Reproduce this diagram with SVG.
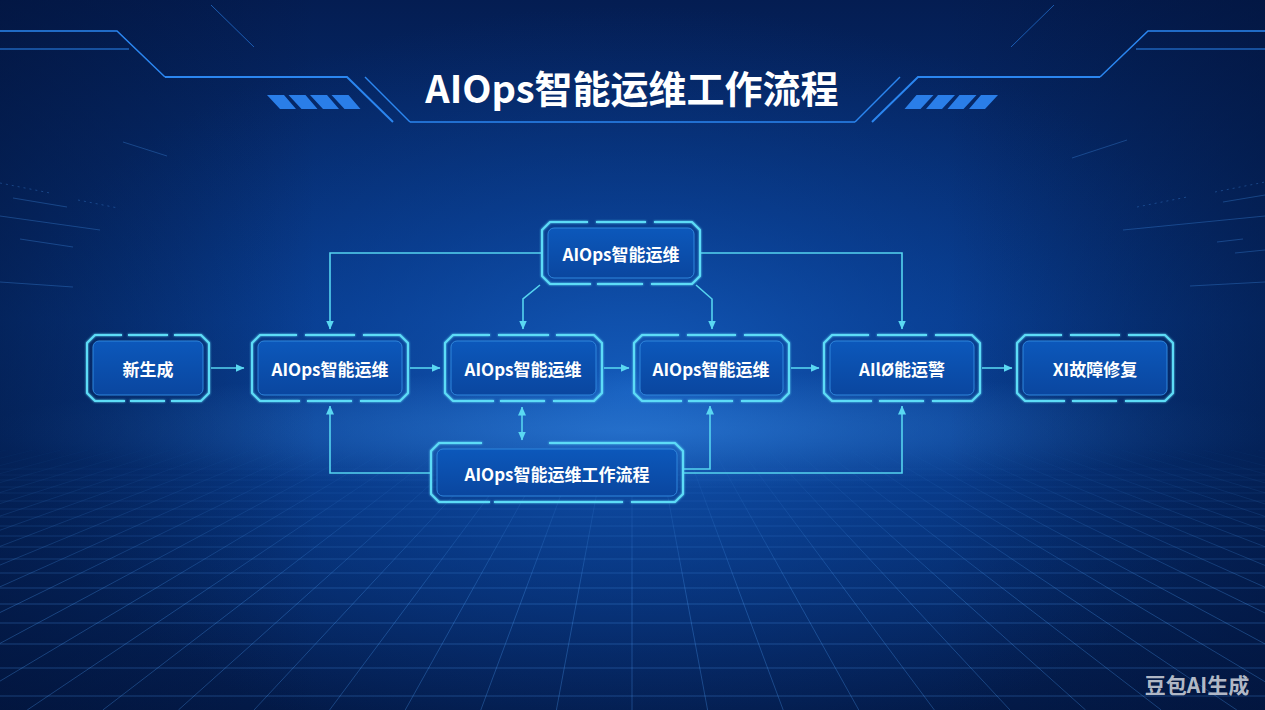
<svg xmlns="http://www.w3.org/2000/svg" width="1265" height="710" viewBox="0 0 1265 710">
<defs>
<linearGradient id="bgV" x1="0" y1="0" x2="0" y2="1">
<stop offset="0" stop-color="#041d52"/>
<stop offset="0.45" stop-color="#073a8a"/>
<stop offset="0.62" stop-color="#063681"/>
<stop offset="1" stop-color="#031a48"/>
</linearGradient>
<radialGradient id="glowC" cx="632" cy="390" r="640" gradientUnits="userSpaceOnUse" gradientTransform="translate(632 390) scale(1 0.6) translate(-632 -390)">
<stop offset="0" stop-color="#1763c6" stop-opacity="0.85"/>
<stop offset="0.5" stop-color="#0d4aa6" stop-opacity="0.45"/>
<stop offset="1" stop-color="#0a3a8c" stop-opacity="0"/>
</radialGradient>
<radialGradient id="horizon" cx="632" cy="430" r="650" gradientUnits="userSpaceOnUse" gradientTransform="translate(632 430) scale(1 0.09) translate(-632 -430)">
<stop offset="0" stop-color="#3b8ee8" stop-opacity="0.45"/>
<stop offset="1" stop-color="#3b8ee8" stop-opacity="0"/>
</radialGradient>
<linearGradient id="vign" x1="0" y1="0" x2="1" y2="0">
<stop offset="0" stop-color="#021238" stop-opacity="0.55"/>
<stop offset="0.25" stop-color="#021238" stop-opacity="0"/>
<stop offset="0.75" stop-color="#021238" stop-opacity="0"/>
<stop offset="1" stop-color="#021238" stop-opacity="0.55"/>
</linearGradient>
<linearGradient id="gridFade" x1="0" y1="440" x2="0" y2="600" gradientUnits="userSpaceOnUse">
<stop offset="0" stop-color="#fff" stop-opacity="0"/>
<stop offset="1" stop-color="#fff" stop-opacity="1"/>
</linearGradient>
<mask id="gridMask" maskUnits="userSpaceOnUse" x="0" y="0" width="1265" height="710">
<rect x="0" y="0" width="1265" height="710" fill="url(#gridFade)"/>
</mask>
<linearGradient id="fadeL" x1="0" y1="0" x2="1" y2="0">
<stop offset="0" stop-color="#2a7ee8" stop-opacity="0"/>
<stop offset="1" stop-color="#2a7ee8" stop-opacity="1"/>
</linearGradient>
<linearGradient id="innerFill" x1="0" y1="0" x2="0" y2="1">
<stop offset="0" stop-color="#0c58bb"/>
<stop offset="1" stop-color="#0a469f"/>
</linearGradient>
<filter id="glow" x="-20%" y="-30%" width="140%" height="160%">
<feGaussianBlur stdDeviation="1.3" result="b"/>
<feMerge><feMergeNode in="b"/><feMergeNode in="SourceGraphic"/></feMerge>
</filter>
<filter id="bigGlow" x="-50%" y="-300%" width="200%" height="700%">
<feGaussianBlur stdDeviation="3" result="b"/>
<feMerge><feMergeNode in="b"/><feMergeNode in="b"/><feMergeNode in="SourceGraphic"/></feMerge>
</filter>
<marker id="arr" viewBox="0 0 9 8" refX="8.5" refY="4" markerWidth="9" markerHeight="8" markerUnits="userSpaceOnUse" orient="auto-start-reverse">
<path d="M0,0 L9,4 L0,8 z" fill="#5ad8f2"/>
</marker>
<style>
.frame{fill:none;stroke:#5ddcf7;stroke-width:2;stroke-linejoin:miter;filter:url(#glow)}
.inner{fill:url(#innerFill);stroke:#2f86dc;stroke-width:1}
.lbl{font-family:"Noto Sans CJK SC","Noto Sans",sans-serif;font-weight:bold;font-size:17px;fill:#ffffff;text-anchor:middle;dominant-baseline:central}
.conn{fill:none;stroke:#56d4ef;stroke-width:1.6}
.grid{fill:none;stroke:#4a9af0;stroke-width:0.8;stroke-opacity:0.4}
.streak{fill:none;stroke:#3f8ae0;stroke-width:1;stroke-opacity:0.35}
.deco{fill:none;stroke:#2b86f0}
.stripe{fill:#2a7ee8}
</style>
</defs>

<!-- background -->
<rect x="0" y="0" width="1265" height="710" fill="url(#bgV)"/>
<rect x="0" y="0" width="1265" height="710" fill="url(#glowC)"/>
<rect x="0" y="330" width="1265" height="200" fill="url(#horizon)"/>
<rect x="0" y="0" width="1265" height="710" fill="url(#vign)"/>

<!-- perspective grid -->
<g mask="url(#gridMask)">
<path class="grid" d="M0,469H1265M0,475H1265M0,480H1265M0,487H1265M0,493H1265M0,501H1265M0,509H1265M0,517H1265M0,526H1265M0,536H1265M0,547H1265M0,559H1265M0,573H1265M0,588H1265M0,604H1265M0,623H1265M0,644H1265M0,668H1265M0,696H1265"/>
<path class="grid" d="M632,450L632,710
M659.2,450L707.6,710M686.4,450L783.2,710M713.6,450L858.8,710M740.8,450L934.4,710M768,450L1010,710M795.2,450L1085.6,710M822.4,450L1161.2,710M849.6,450L1236.8,710M876.8,450L1312.4,710M904,450L1388,710M931.2,450L1463.6,710M958.4,450L1539.2,710M985.6,450L1614.8,710M1012.8,450L1690.4,710M1040,450L1766,710M1067.2,450L1841.6,710M1094.4,450L1917.2,710M1121.6,450L1992.8,710M1148.8,450L2068.4,710M1176,450L2144,710M1203.2,450L2219.6,710M1230.4,450L2295.2,710M1257.6,450L2370.8,710
M604.8,450L556.4,710M577.6,450L480.8,710M550.4,450L405.2,710M523.2,450L329.6,710M496,450L254,710M468.8,450L178.4,710M441.6,450L102.8,710M414.4,450L27.2,710M387.2,450L-48.4,710M360,450L-124,710M332.8,450L-199.6,710M305.6,450L-275.2,710M278.4,450L-350.8,710M251.2,450L-426.4,710M224,450L-502,710M196.8,450L-577.6,710M169.6,450L-653.2,710M142.4,450L-728.8,710M115.2,450L-804.4,710M88,450L-880,710M60.8,450L-955.6,710M33.6,450L-1031.2,710M6.4,450L-1106.8,710"/>
</g>

<!-- side streaks -->
<g>
<path class="streak" stroke-dasharray="2 4" d="M0,183L50,193M78,200L118,208"/>
<path class="streak" d="M13,198L67,207M0,216L100,230M0,282L73,287M123,142L167,156"/>
<path class="streak" stroke-opacity="0.6" d="M20,239L73,247"/>
<path class="streak" stroke-dasharray="2 4" d="M1215,192L1265,182M1137,207L1187,197"/>
<path class="streak" d="M1072,158L1127,140M1223,202L1265,195M1123,230L1265,216M1235,253L1265,250M1190,286L1265,282"/>
<path class="streak" stroke-opacity="0.6" d="M1217,242L1243,239"/>
</g>

<!-- header decoration -->
<g id="header-deco">
<g id="deco-left">
<path class="deco" stroke="#1b5cc8" stroke-width="1.5" d="M0,31L117,31L165,77"/>
<path class="deco" stroke-width="2" d="M165,77L347,77L393,122"/>
<path class="deco" stroke="#174fae" stroke-width="1" d="M0,49L129,49"/>
<path fill="none" stroke="url(#fadeL)" stroke-width="1.5" d="M32,89L343,89"/>
<path class="deco" stroke-width="1.5" d="M365,77L410,122"/>
<path class="deco" stroke="#1a4f9e" stroke-width="1" stroke-opacity="0.6" d="M211,5L254,47"/>
<path class="stripe" d="M267,95L284,95L296,109L280,109Z M288.5,95L305.5,95L317.5,109L301.5,109Z M310,95L327,95L339,109L323,109Z M331.5,95L348.5,95L360.5,109L344.5,109Z"/>
</g>
<g id="deco-right" transform="translate(1265 0) scale(-1 1)">
<path class="deco" stroke="#1b5cc8" stroke-width="1.5" d="M0,31L117,31L165,77"/>
<path class="deco" stroke-width="2" d="M165,77L347,77L393,122"/>
<path class="deco" stroke="#174fae" stroke-width="1" d="M0,49L129,49"/>
<path fill="none" stroke="url(#fadeL)" stroke-width="1.5" d="M32,89L343,89"/>
<path class="deco" stroke-width="1.5" d="M365,77L410,122"/>
<path class="deco" stroke="#1a4f9e" stroke-width="1" stroke-opacity="0.6" d="M211,5L254,47"/>
<path class="stripe" d="M267,95L284,95L296,109L280,109Z M288.5,95L305.5,95L317.5,109L301.5,109Z M310,95L327,95L339,109L323,109Z M331.5,95L348.5,95L360.5,109L344.5,109Z"/>
</g>
<path class="deco" stroke-width="1.5" d="M410,122L855,122"/>
<path fill="none" stroke="#9ef0ff" stroke-width="3" filter="url(#bigGlow)" d="M613,122L661,122"/>
</g>

<!-- title -->
<text id="title" x="632" y="86" font-family="'Noto Sans CJK SC','Noto Sans',sans-serif" font-weight="bold" font-size="38" fill="#ffffff" text-anchor="middle" dominant-baseline="central">AIOps智能运维工作流程</text>

<!-- connectors -->
<g id="connectors">
<path class="conn" marker-end="url(#arr)" d="M211,368L244,368"/>
<path class="conn" marker-end="url(#arr)" d="M410,368L440,368"/>
<path class="conn" marker-end="url(#arr)" d="M604,368L629,368"/>
<path class="conn" marker-end="url(#arr)" d="M791,368L819,368"/>
<path class="conn" marker-end="url(#arr)" d="M982,368L1012,368"/>
<path class="conn" marker-end="url(#arr)" d="M541,253L330,253L330,329"/>
<path class="conn" marker-end="url(#arr)" d="M701,253L902,253L902,329"/>
<path class="conn" marker-end="url(#arr)" d="M540,285L523,299L523,329"/>
<path class="conn" marker-end="url(#arr)" d="M696,285L712,299L712,329"/>
<path class="conn" marker-end="url(#arr)" d="M430,473L330,473L330,406"/>
<path class="conn" marker-start="url(#arr)" marker-end="url(#arr)" d="M522,407L522,440"/>
<path class="conn" marker-end="url(#arr)" d="M684,469L710,469L710,406"/>
<path class="conn" marker-end="url(#arr)" d="M684,473L902,473L902,406"/>
</g>

<!-- nodes -->
<g id="node-new">
<rect class="inner" x="93" y="341" width="110" height="54" rx="6"/>
<path class="frame" d="M122,335L95,335L87,343L87,393L95,401L125,401M128,335L168,335M130,401L165,401M174,335L201,335L209,343L209,393L201,401L171,401"/>
<text class="lbl" x="148" y="368">新生成</text>
</g>
<g id="node-aiops-1">
<rect class="inner" x="258" y="341" width="144" height="54" rx="6"/>
<path class="frame" d="M297,335L260,335L252,343L252,393L260,401L300,401M305,335L355,335M307,401L352,401M363,335L400,335L408,343L408,393L400,401L360,401"/>
<text class="lbl" x="330" y="368">AIOps智能运维</text>
</g>
<g id="node-aiops-2">
<rect class="inner" x="451" y="341" width="145" height="54" rx="6"/>
<path class="frame" d="M490,335L453,335L445,343L445,393L453,401L494,401M498,335L549,335M500,401L545,401M556,335L594,335L602,343L602,393L594,401L553,401"/>
<text class="lbl" x="523" y="368">AIOps智能运维</text>
</g>
<g id="node-aiops-3">
<rect class="inner" x="640" y="341" width="143" height="54" rx="6"/>
<path class="frame" d="M679,335L642,335L634,343L634,393L642,401L682,401M687,335L736,335M688,401L733,401M744,335L781,335L789,343L789,393L781,401L741,401"/>
<text class="lbl" x="711" y="368">AIOps智能运维</text>
</g>
<g id="node-alert">
<rect class="inner" x="830" y="341" width="144" height="54" rx="6"/>
<path class="frame" d="M869,335L832,335L824,343L824,393L832,401L872,401M877,335L927,335M879,401L924,401M935,335L972,335L980,343L980,393L972,401L932,401"/>
<text class="lbl" x="902" y="368">AIlØ能运警</text>
</g>
<g id="node-repair">
<rect class="inner" x="1023" y="341" width="144" height="54" rx="6"/>
<path class="frame" d="M1062,335L1025,335L1017,343L1017,393L1025,401L1065,401M1070,335L1120,335M1072,401L1117,401M1128,335L1165,335L1173,343L1173,393L1165,401L1125,401"/>
<text class="lbl" x="1095" y="368">XI故障修复</text>
</g>
<g id="node-top">
<rect class="inner" x="548" y="228" width="146" height="50" rx="6"/>
<path class="frame" d="M588,222L550,222L542,230L542,276L550,284L591,284M596,222L646,222M597,284L643,284M654,222L692,222L700,230L700,276L692,284L651,284"/>
<text class="lbl" x="621" y="253">AIOps智能运维</text>
</g>
<g id="node-bottom">
<rect class="inner" x="437" y="449" width="240" height="47" rx="6"/>
<path class="frame" d="M482,443L439,443L431,451L431,494L439,502L490,502M549,443L675,443L683,451L683,494L675,502L631,502M494,502L623,502"/>
<text class="lbl" x="557" y="473">AIOps智能运维工作流程</text>
</g>

<!-- watermark -->
<text x="1197" y="684" font-family="'Noto Sans CJK SC','Noto Sans',sans-serif" font-weight="bold" font-size="21" fill="#c9ced8" fill-opacity="0.9" text-anchor="middle" dominant-baseline="central">豆包AI生成</text>
</svg>
